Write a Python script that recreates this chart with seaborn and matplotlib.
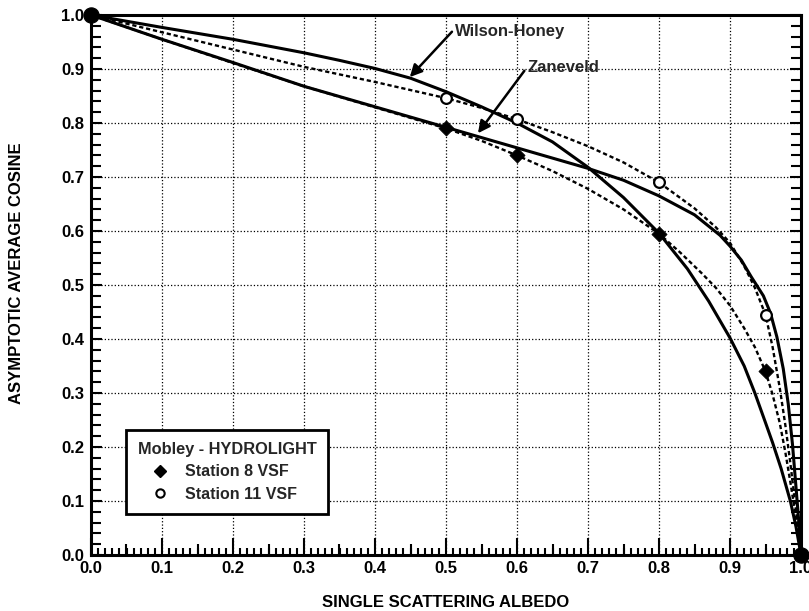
import matplotlib
matplotlib.use("Agg")
import numpy as np
import pandas as pd
import matplotlib.pyplot as plt
import seaborn as sns
from matplotlib.ticker import MultipleLocator
from matplotlib.lines import Line2D

# Asymptotic average cosine versus single scattering albedo
# Wilson-Honey model
wh_x = [0.0, 0.1, 0.2, 0.3, 0.35, 0.4, 0.45, 0.5, 0.55, 0.6, 0.65, 0.7, 0.75,
        0.8, 0.84, 0.87, 0.9, 0.92, 0.935, 0.95, 0.96, 0.972, 0.985, 0.993, 1.0]
wh_y = [1.0, 0.977, 0.955, 0.930, 0.916, 0.901, 0.883, 0.858, 0.830, 0.800,
        0.765, 0.718, 0.662, 0.596, 0.530, 0.470, 0.402, 0.350, 0.300, 0.245,
        0.208, 0.160, 0.100, 0.052, 0.0]

# Zaneveld model
zv_x = [0.0, 0.1, 0.2, 0.3, 0.4, 0.5, 0.6, 0.7, 0.75, 0.8, 0.85, 0.886, 0.9,
        0.916, 0.93, 0.947, 0.957, 0.966, 0.975, 0.982, 0.988, 0.993, 0.997, 1.0]
zv_y = [1.0, 0.955, 0.912, 0.868, 0.830, 0.792, 0.754, 0.716, 0.694, 0.665,
        0.630, 0.592, 0.572, 0.546, 0.515, 0.480, 0.448, 0.404, 0.345, 0.280,
        0.205, 0.125, 0.060, 0.0]

# Station 11 VSF curve
s11_x = [0.0, 0.1, 0.2, 0.3, 0.4, 0.5, 0.55, 0.6, 0.65, 0.7, 0.75, 0.8, 0.85,
         0.88, 0.9, 0.92, 0.935, 0.95, 0.96, 0.97, 0.978, 0.985, 0.991, 0.996, 1.0]
s11_y = [1.0, 0.968, 0.936, 0.904, 0.876, 0.846, 0.828, 0.807, 0.783, 0.757,
         0.727, 0.690, 0.642, 0.607, 0.578, 0.535, 0.495, 0.445, 0.385, 0.310,
         0.240, 0.170, 0.105, 0.050, 0.0]

# Station 8 VSF curve
s8_x = [0.0, 0.1, 0.2, 0.3, 0.4, 0.5, 0.55, 0.6, 0.65, 0.7, 0.75, 0.8, 0.83,
        0.86, 0.88, 0.9, 0.92, 0.935, 0.95, 0.96, 0.97, 0.978, 0.985, 0.991,
        0.996, 1.0]
s8_y = [1.0, 0.955, 0.911, 0.868, 0.829, 0.790, 0.767, 0.740, 0.711, 0.678,
        0.640, 0.595, 0.560, 0.522, 0.495, 0.462, 0.420, 0.385, 0.340, 0.297,
        0.245, 0.190, 0.135, 0.085, 0.040, 0.0]

# HYDROLIGHT runs
pts_albedo = [0.5, 0.6, 0.8, 0.95]
st8_cos = [0.790, 0.740, 0.595, 0.340]
st11_cos = [0.846, 0.807, 0.690, 0.445]
end_x = [0.0, 1.0]
end_y = [1.0, 0.0]

sns.set_theme(style="white")
plt.rcParams["font.family"] = ["Liberation Sans", "DejaVu Sans"]
plt.rcParams["font.weight"] = "bold"

fig = plt.figure(figsize=(8.09, 6.11), dpi=100)
ax = fig.add_axes([91 / 809, 1 - 555 / 611, 710 / 809, 540 / 611])

solid = dict(color="black", lw=2.2, estimator=None, sort=False, ax=ax)
dashed = dict(color="black", lw=1.7, estimator=None, sort=False, ax=ax,
              linestyle=(0, (1.8, 1.2)))
sns.lineplot(x=wh_x, y=wh_y, **solid)
sns.lineplot(x=zv_x, y=zv_y, **solid)
sns.lineplot(x=s11_x, y=s11_y, **dashed)
sns.lineplot(x=s8_x, y=s8_y, **dashed)

sns.scatterplot(x=pts_albedo, y=st8_cos, marker="D", s=60, color="black",
                edgecolor="black", linewidth=0.5, zorder=5, ax=ax)
sns.scatterplot(x=pts_albedo, y=st11_cos, marker="o", s=60, color="white",
                edgecolor="black", linewidth=1.6, zorder=5, ax=ax)
sns.scatterplot(x=end_x, y=end_y, marker="o", s=120, color="black",
                edgecolor="black", zorder=6, clip_on=False, ax=ax)

ax.set_xlim(0, 1)
ax.set_ylim(0, 1)
ax.xaxis.set_major_locator(MultipleLocator(0.1))
ax.xaxis.set_minor_locator(MultipleLocator(0.01))
ax.yaxis.set_major_locator(MultipleLocator(0.1))
ax.yaxis.set_minor_locator(MultipleLocator(0.02))
ax.xaxis.set_major_formatter(plt.FormatStrFormatter("%.1f"))
ax.yaxis.set_major_formatter(plt.FormatStrFormatter("%.1f"))

ax.tick_params(which="both", direction="in", top=False, right=True,
               left=True, bottom=True, color="black", width=1.5,
               labelsize=12, labelcolor="black")
ax.tick_params(axis="x", which="major", length=12, pad=4)
ax.tick_params(axis="x", which="minor", length=5)
ax.tick_params(axis="y", which="major", length=8, pad=5)
ax.tick_params(axis="y", which="minor", length=7)

# half-step ticks on the albedo axis
sec = ax.secondary_xaxis("bottom")
sec.set_xticks(np.arange(0.05, 1.0, 0.1))
sec.tick_params(direction="in", length=8, width=1.5, color="black",
                labelbottom=False)
sec.spines["bottom"].set_visible(False)

for sp in ax.spines.values():
    sp.set_visible(True)
    sp.set_color("black")
    sp.set_linewidth(2.2)

ax.grid(True, which="major", linestyle=":", linewidth=0.9, color="black")
ax.set_axisbelow(True)

ax.set_xlabel("SINGLE SCATTERING ALBEDO", fontsize=12, fontweight="bold",
              color="black")
ax.set_ylabel("ASYMPTOTIC AVERAGE COSINE", fontsize=12, fontweight="bold",
              color="black")
ax.xaxis.set_label_coords(0.5, -0.074)
ax.yaxis.set_label_coords(-0.094, 0.522)

arrow = dict(arrowstyle="-|>", color="black", lw=1.8, mutation_scale=18,
             shrinkA=0, shrinkB=0)
ax.annotate("Wilson-Honey", xy=(0.449, 0.885), xytext=(0.513, 0.970),
            ha="left", va="center", fontsize=12, fontweight="bold",
            arrowprops=dict(arrow, relpos=(0, 0.7)))
ax.annotate("Zaneveld", xy=(0.545, 0.781), xytext=(0.615, 0.902),
            ha="left", va="center", fontsize=12, fontweight="bold",
            arrowprops=dict(arrow, relpos=(0, 0.6)))

handles = [
    Line2D([], [], marker="D", color="black", ls="none", ms=6),
    Line2D([], [], marker="o", mfc="white", mec="black", mew=1.5, ls="none", ms=6),
]
leg = ax.legend(handles, ["Station 8 VSF", "Station 11 VSF"],
                title="Mobley - HYDROLIGHT", loc="upper left",
                bbox_to_anchor=(0.049, 0.231), borderaxespad=0,
                frameon=True, fancybox=False, edgecolor="black", framealpha=1,
                prop=dict(weight="bold", size=11.5),
                title_fontproperties=dict(weight="bold", size=11.8),
                handlelength=2.8, handletextpad=0.15, borderpad=0.75,
                labelspacing=0.45)
leg.get_frame().set_linewidth(2.0)
leg._legend_box.align = "left"

fig.savefig("out.png", dpi=100)
